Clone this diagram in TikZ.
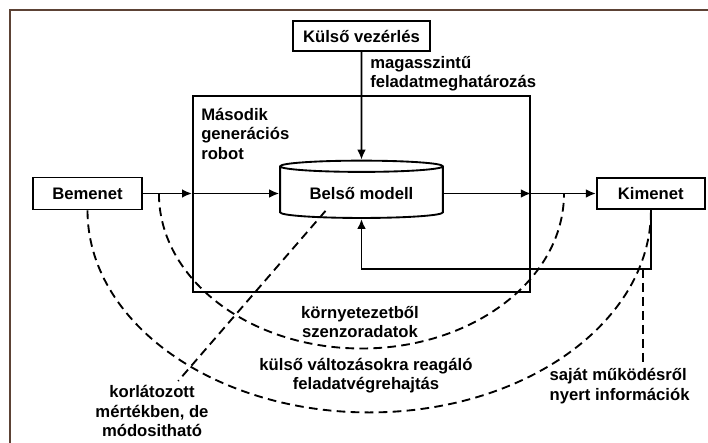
\documentclass[tikz,border=0pt]{standalone}
\usepackage{fontspec}
\setmainfont{Liberation Sans}
\usepackage{tikz}
\usetikzlibrary{positioning, arrows.meta, shapes.geometric}
\definecolor{framebrown}{HTML}{5C4235}
\tikzstyle{block} = [rectangle, draw, line width=1.4pt, text centered, inner sep=2pt]
\tikzstyle{frameblock} = [rectangle, draw, line width=1.4pt, minimum width=252.75pt, minimum height=147pt]
\tikzstyle{modelblock} = [cylinder, shape border rotate=90, draw, line width=1.4pt, aspect=0.1,
minimum width=122pt, minimum height=43pt]
\tikzstyle{lbl} = [inner sep=0pt]
\tikzstyle{arrow} = [line width=1.4pt,->,>={Latex[length=7.5pt,width=6.5pt]}]
\tikzstyle{dline} = [line width=1.4pt, dash pattern=on 6.5pt off 4pt]

\begin{document}
\begin{tikzpicture}[x=0.75pt, y=0.75pt]
    \tikzstyle{every node}=[font=\fontsize{12.5}{14.5}\selectfont\bfseries]
    \useasboundingbox (0,0) rectangle (708,-443);
    \draw [line width=1pt, framebrown] (708,-10) -- (10,-10) -- (10,-443);
    \node (2) [frameblock] at (361.5,-194) {};
    \node (3) [modelblock] at (361.5,-193.5) {Belső modell};
    \node (1) [block, minimum width=102.75pt, minimum height=22.5pt, above of=3, node distance=118pt] {Külső vezérlés};
    \node (4) [block, minimum width=81.75pt, minimum height=24pt, left of=3, node distance=205.5pt] {Bemenet};
    \node (5) [block, minimum width=81pt, minimum height=23.25pt, right of=3, node distance=217pt] {Kimenet};
    \node (6) [lbl, align=left, anchor=north west] at (370,-56) {magasszintű\\feladatmeghatározás};
    \node (7) [lbl, align=left, anchor=north west] at (201,-108) {Második\\generációs\\robot};
    \node (8) [lbl, align=center, anchor=north] at (360,-306) {környetezetből\\szenzoradatok};
    \node (9) [lbl, align=center, anchor=north] at (366,-358) {külső változásokra reagáló\\feladatvégrehajtás};
    \node (10) [align=center, anchor=north] at (152,-381) {korlátozott\\mértékben, de\\módositható};
    \node (11) [align=left, anchor=north west] at (545,-364) {saját működésről\\nyert információk};
    \draw [arrow] (1) -- (3);
    \draw [arrow] (4) -- (4 -| 2.west);
    \draw [arrow] (4 -| 2.west) -- (4 -| 3.west);
    \draw [arrow] (3.east |- 5) -- (5 -| 2.east);
    \draw [arrow] (5 -| 2.east) -- (5);
    \coordinate (c1) at ([yshift=-44.25pt]5.south);
    \draw [arrow] (5) -- (c1) -| (3);
    % dashed relations
    \coordinate (c2) at ([xshift=12pt]4.east);
    \draw [dline] (c2) arc[start angle=180, end angle=360, x radius=151.9pt, y radius=116.25pt];
    \draw [dline] (4.south) arc[start angle=180, end angle=360, x radius=211.3pt, y radius=151.5pt];
    \coordinate (c3) at ([xshift=-27pt,yshift=6pt]3.south);
    \draw [dline] (c3) -- (10);
    \coordinate (c4) at ([xshift=-6pt]c1);
    \draw [dline] (c4) -- (c4 |- 11.north);
\end{tikzpicture}
\end{document}
